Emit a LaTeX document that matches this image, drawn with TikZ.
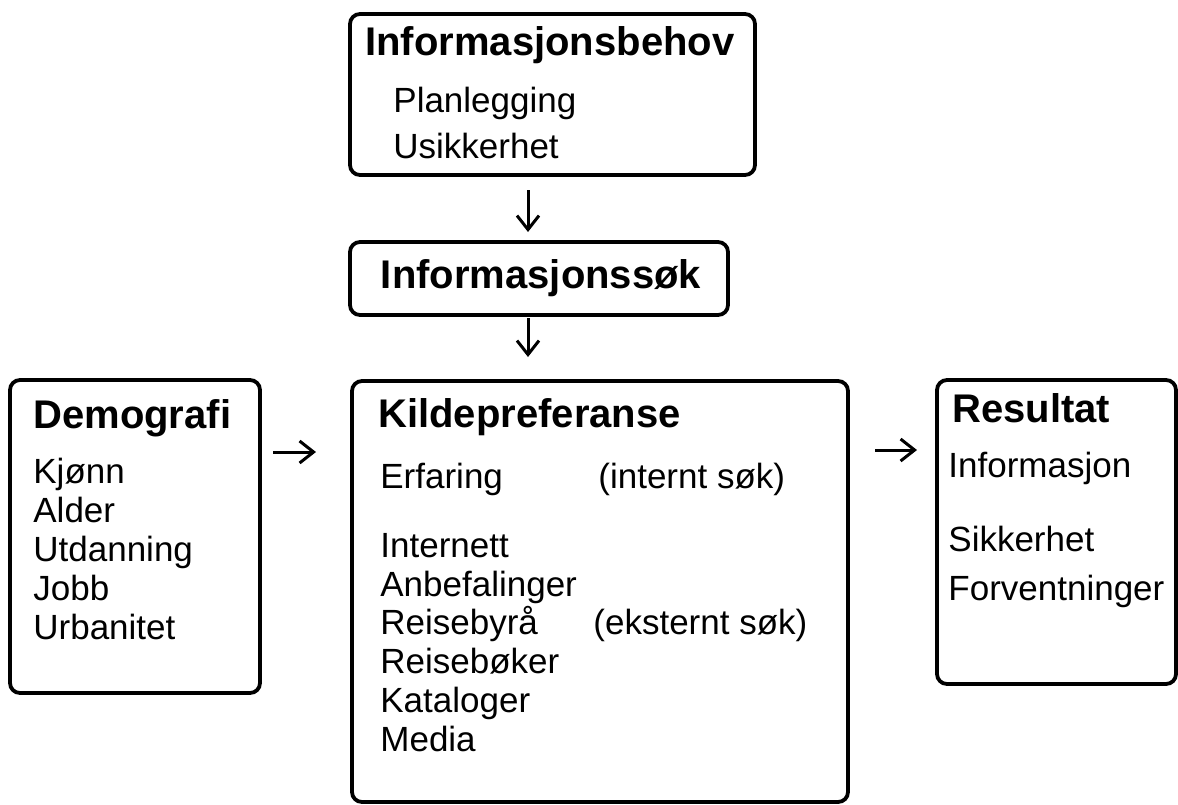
\documentclass[tikz,border=0pt]{standalone}
\usepackage{fontspec}
\setmainfont{Liberation Sans}
\usetikzlibrary{arrows.meta}
\begin{document}
\begin{tikzpicture}[x=0.5pt,y=-0.5pt]
		\tikzset{box/.style = {draw, line width=1.9pt, rounded corners=5pt, inner sep=0pt}}
		\tikzset{title/.style = {anchor=base west, inner sep=0pt, font=\fontsize{20pt}{23pt}\selectfont\bfseries}}
		\tikzset{item/.style = {anchor=base west, inner sep=0pt, font=\fontsize{17.5pt}{20pt}\selectfont}}
		\tikzset{edge/.style = {-{Straight Barb[length=7pt,width=11pt]}, line width=1.5pt}}
		
		\useasboundingbox (0,0) rectangle (1178,804);
		
		% boxes
		\node[box, minimum width=202.5pt, minimum height=80.5pt]  (1) at ( 552.5,  94.5) {};
		\node[box, minimum width=189pt,   minimum height=36.5pt]  (2) at ( 539,   278.5) {};
		\node[box, minimum width=125pt,   minimum height=156.5pt] (3) at ( 135,   536.5) {};
		\node[box, minimum width=248pt,   minimum height=210.5pt] (4) at ( 600,   591.5) {};
		\node[box, minimum width=119.5pt, minimum height=152pt]   (5) at (1056.5, 532) {};
		
		% Informasjonsbehov
		\node[title] (11) at ( 365,  55) {Informasjonsbehov};
		\node[item]  (12) at ( 393, 112) {Planlegging};
		\node[item]  (13) at ( 393, 158) {Usikkerhet};
		
		% Informasjonssøk
		\node[title, anchor=base] (21) at (541, 288) {Informasjonssøk};
		
		% Demografi
		\node[title] (31) at (  33, 428) {Demografi};
		\node[item]  (32) at (  33, 483) {Kjønn};
		\node[item]  (33) at (  33, 522) {Alder};
		\node[item]  (34) at (  33, 561) {Utdanning};
		\node[item]  (35) at (  33, 600) {Jobb};
		\node[item]  (36) at (  33, 639) {Urbanitet};
		
		% Kildepreferanse
		\node[title] (41) at ( 378, 427) {Kildepreferanse};
		\node[item]  (42) at ( 380, 488) {Erfaring};
		\node[item]  (43) at ( 598, 488) {(internt søk)};
		\node[item]  (44) at ( 380, 557) {Internett};
		\node[item]  (45) at ( 380, 596) {Anbefalinger};
		\node[item]  (46) at ( 380, 634) {Reisebyrå};
		\node[item]  (47) at ( 593, 634) {(eksternt søk)};
		\node[item]  (48) at ( 380, 673) {Reisebøker};
		\node[item]  (49) at ( 380, 712) {Kataloger};
		\node[item]  (50) at ( 380, 751) {Media};
		
		% Resultat
		\node[title] (51) at ( 952, 422) {Resultat};
		\node[item]  (52) at ( 948, 477) {Informasjon};
		\node[item]  (53) at ( 948, 551) {Sikkerhet};
		\node[item]  (54) at ( 948, 600) {Forventninger};
		
		% arrows
		\coordinate (a1) at (528, 190);
		\coordinate (b1) at (528, 232);
		\coordinate (a2) at (528, 318);
		\coordinate (b2) at (528, 357);
		\coordinate (a3) at (273, 452);
		\coordinate (b3) at (316, 452);
		\coordinate (a4) at (875, 450);
		\coordinate (b4) at (917, 450);
		
		\draw[edge] (a1) to (b1);
		\draw[edge] (a2) to (b2);
		\draw[edge] (a3) to (b3);
		\draw[edge] (a4) to (b4);
\end{tikzpicture}
\end{document}
